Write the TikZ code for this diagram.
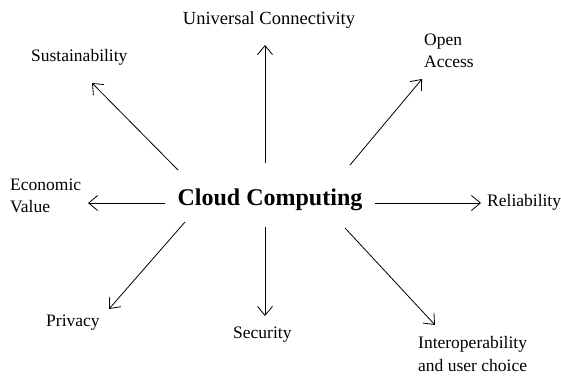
\documentclass[tikz,border=0pt]{standalone}
\usepackage{fontspec}
\setmainfont{Liberation Serif}
\usetikzlibrary{arrows.meta}
\begin{document}
\begin{tikzpicture}[x=1pt,y=-1pt,
    feature/.style={inner sep=0pt,align=left,font=\fontsize{17.5}{22.5}\selectfont},
    spoke/.style={-{Straight Barb[length=9pt,width=15pt]},line width=0.8pt}]
      \useasboundingbox (0,0) rectangle (561,375);
      \node[inner sep=0pt,font=\fontsize{24}{28}\selectfont\bfseries] (cc) at (270,200) {Cloud Computing};
      \node[feature,font=\fontsize{18.5}{22.5}\selectfont] (uc) at (269,20) {Universal Connectivity};
      \node[feature,anchor=west] (sus) at (31,57) {Sustainability};
      \node[feature,anchor=west] (oa) at (424,51) {Open\\Access};
      \node[feature,anchor=west] (ev) at (10,196) {Economic\\Value};
      \node[feature,anchor=west] (rel) at (487,202) {Reliability};
      \node[feature,anchor=west] (pri) at (46,323) {Privacy};
      \node[feature,anchor=west] (sec) at (233,335) {Security};
      \node[feature,anchor=west] (io) at (418,354) {Interoperability\\and user choice};
      % spokes out of the hub
      \coordinate (s-uc) at (265,163);  \coordinate (t-uc) at (265,45);
      \coordinate (s-sus) at (178,170); \coordinate (t-sus) at (92,83);
      \coordinate (s-oa) at (350,165);  \coordinate (t-oa) at (422,79);
      \coordinate (s-ev) at (165,203);  \coordinate (t-ev) at (88,203);
      \coordinate (s-rel) at (375,203); \coordinate (t-rel) at (481,203);
      \coordinate (s-pri) at (185,222); \coordinate (t-pri) at (109,309);
      \coordinate (s-sec) at (265,227); \coordinate (t-sec) at (265,316);
      \coordinate (s-io) at (345,228);  \coordinate (t-io) at (435,325);
      \foreach \k in {uc,sus,oa,ev,rel,pri,sec,io}
        \draw[spoke] (s-\k) -- (t-\k);
    \end{tikzpicture}
\end{document}
